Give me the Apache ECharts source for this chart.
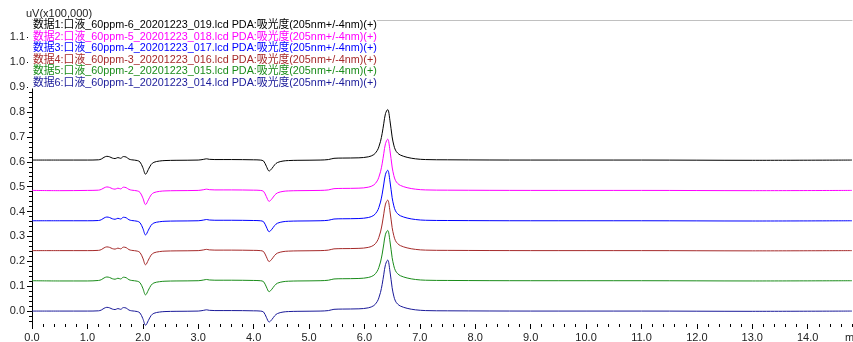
<!DOCTYPE html>
<html>
<head>
<meta charset="utf-8">
<script src="https://cdn.jsdelivr.net/npm/echarts@6/dist/echarts.min.js"></script>
<style>
html,body{margin:0;padding:0;background:#fff;}
#c{width:853px;height:342px;}
</style>
</head>
<body>
<div id="c"></div>
<script>
// ---- data ----
const seriesNames = [
  "数据1:口液_60ppm-6_20201223_019.lcd PDA:吸光度(205nm+/-4nm)(+)",
  "数据2:口液_60ppm-5_20201223_018.lcd PDA:吸光度(205nm+/-4nm)(+)",
  "数据3:口液_60ppm-4_20201223_017.lcd PDA:吸光度(205nm+/-4nm)(+)",
  "数据4:口液_60ppm-3_20201223_016.lcd PDA:吸光度(205nm+/-4nm)(+)",
  "数据5:口液_60ppm-2_20201223_015.lcd PDA:吸光度(205nm+/-4nm)(+)",
  "数据6:口液_60ppm-1_20201223_014.lcd PDA:吸光度(205nm+/-4nm)(+)"
];
const seriesColors = ["#000000", "#ff00ff", "#0000ff", "#a52a2a", "#1a8c1a", "#1a1a99"];

const times = [0.0,0.5,1.0,1.2,1.25,1.3,1.35,1.4,1.45,1.5,
  1.55,1.6,1.65,1.7,1.75,1.8,1.9,1.95,2.0,2.05,
  2.1,2.15,2.2,2.3,2.4,2.6,3.0,3.1,3.15,3.2,
  3.3,3.6,4.0,4.12,4.18,4.23,4.28,4.33,4.38,4.43,
  4.53,4.63,4.8,5.2,5.35,5.45,5.6,5.9,6.07,6.17,
  6.23,6.26,6.29,6.32,6.35,6.38,6.42,6.46,6.5,6.53,
  6.56,6.6,6.65,6.77,6.92,7.1,7.5,9.0,11.0,13.0,14.8];

const data1 = [0.607,0.607,0.607,0.608,0.611,0.618,0.622,0.620,0.615,0.613,
  0.617,0.614,0.621,0.619,0.611,0.608,0.605,0.599,0.577,0.550,
  0.569,0.589,0.598,0.603,0.605,0.606,0.607,0.610,0.612,0.610,
  0.609,0.609,0.608,0.607,0.603,0.582,0.563,0.573,0.588,0.597,
  0.603,0.605,0.606,0.607,0.609,0.614,0.615,0.616,0.620,0.629,
  0.645,0.660,0.682,0.714,0.755,0.794,0.810,0.767,0.700,0.667,
  0.647,0.635,0.627,0.618,0.612,0.609,0.608,0.607,0.607,0.606,0.607];
const data2 = [0.485,0.484,0.485,0.486,0.489,0.495,0.499,0.497,0.492,0.490,
  0.494,0.491,0.498,0.496,0.489,0.486,0.483,0.477,0.455,0.428,
  0.447,0.467,0.476,0.481,0.483,0.484,0.485,0.488,0.490,0.488,
  0.487,0.487,0.486,0.485,0.481,0.460,0.441,0.451,0.466,0.475,
  0.481,0.483,0.484,0.485,0.487,0.492,0.493,0.494,0.498,0.507,
  0.523,0.538,0.560,0.592,0.634,0.673,0.691,0.647,0.579,0.545,
  0.525,0.513,0.505,0.496,0.490,0.487,0.486,0.485,0.485,0.484,0.485];
const data3 = [0.363,0.363,0.363,0.364,0.367,0.374,0.378,0.376,0.371,0.369,
  0.373,0.370,0.377,0.375,0.367,0.364,0.361,0.355,0.333,0.306,
  0.325,0.345,0.354,0.359,0.361,0.362,0.363,0.366,0.368,0.366,
  0.365,0.365,0.364,0.363,0.359,0.338,0.319,0.329,0.344,0.353,
  0.359,0.361,0.362,0.363,0.365,0.370,0.371,0.372,0.376,0.385,
  0.401,0.416,0.438,0.470,0.511,0.550,0.566,0.523,0.456,0.423,
  0.403,0.391,0.383,0.374,0.368,0.365,0.364,0.363,0.363,0.362,0.363];
const data4 = [0.243,0.243,0.243,0.244,0.247,0.254,0.258,0.256,0.251,0.249,
  0.253,0.250,0.257,0.255,0.247,0.244,0.241,0.235,0.213,0.186,
  0.205,0.225,0.234,0.239,0.241,0.242,0.243,0.246,0.248,0.246,
  0.245,0.245,0.244,0.243,0.239,0.218,0.199,0.209,0.224,0.233,
  0.239,0.241,0.242,0.243,0.245,0.250,0.251,0.252,0.256,0.265,
  0.281,0.296,0.318,0.350,0.391,0.430,0.446,0.403,0.336,0.303,
  0.283,0.271,0.263,0.254,0.248,0.245,0.244,0.243,0.243,0.242,0.243];
const data5 = [0.122,0.121,0.121,0.123,0.126,0.133,0.137,0.135,0.130,0.128,
  0.132,0.129,0.136,0.134,0.126,0.123,0.120,0.114,0.092,0.065,
  0.084,0.104,0.113,0.118,0.120,0.121,0.122,0.125,0.127,0.125,
  0.124,0.124,0.123,0.122,0.118,0.097,0.078,0.088,0.103,0.112,
  0.118,0.120,0.121,0.122,0.124,0.129,0.130,0.131,0.135,0.144,
  0.160,0.175,0.197,0.229,0.270,0.309,0.324,0.282,0.215,0.182,
  0.162,0.150,0.142,0.133,0.127,0.124,0.123,0.122,0.122,0.121,0.122];
const data6 = [0.000,0.000,0.000,0.001,0.004,0.011,0.015,0.013,0.008,0.006,
  0.010,0.007,0.014,0.012,0.004,0.001,-0.002,-0.008,-0.030,-0.057,
  -0.038,-0.018,-0.009,-0.004,-0.002,-0.001,0.000,0.003,0.005,0.003,
  0.002,0.002,0.001,0.000,-0.004,-0.025,-0.044,-0.034,-0.019,-0.010,
  -0.004,-0.002,-0.001,0.000,0.002,0.007,0.008,0.009,0.013,0.022,
  0.038,0.053,0.075,0.107,0.148,0.187,0.205,0.161,0.094,0.060,
  0.040,0.028,0.020,0.011,0.005,0.002,0.001,0.000,0.000,-0.001,0.000];

const xMajorTicks = [0,1,2,3,4,5,6,7,8,9,10,11,12,13,14];
const xMinorTicks = [];
for (let i = 1; i <= 74; i++) { if (i % 5 !== 0) xMinorTicks.push(+(i * 0.2).toFixed(1)); }
const yMajorTicks = [0.0,0.1,0.2,0.3,0.4,0.5,0.6,0.7,0.8,0.9,1.0,1.1];
const yMinorTicks = [];
for (let i = -2; i <= 58; i++) { if (i % 5 !== 0) yMinorTicks.push(+(i * 0.02).toFixed(2)); }

const yAxisName = "uV(x100,000)";
const xAxisName = "min";

// ---- chart ----
const allData = [data1, data2, data3, data4, data5, data6];
const chart = echarts.init(document.getElementById('c'), null, {renderer: 'canvas'});
const labelFont = '"Liberation Sans Narrow", "Liberation Sans", sans-serif';
const nameFont = '"Liberation Sans", sans-serif';
const legendFont = '"Liberation Sans", "Noto Sans CJK JP", sans-serif';
const X_MIN = 0, X_MAX = 14.8, Y_MIN = -0.052, Y_MAX = 1.17;

chart.setOption({
  animation: false,
  backgroundColor: '#ffffff',
  grid: {left: 32, right: 1, top: 20, bottom: 18, containLabel: false, outerBoundsMode: 'none'},
  legend: {
    orient: 'vertical', left: 28, top: 19.5, itemGap: 0, itemWidth: 0, itemHeight: 11,
    icon: 'none', padding: 0, backgroundColor: '#ffffff', selectedMode: false,
    textStyle: {fontSize: 10.8, fontFamily: legendFont, lineHeight: 11.5},
    data: seriesNames.map((n, i) => ({name: n, textStyle: {color: seriesColors[i]}}))
  },
  xAxis: [
    {
      type: 'value', min: X_MIN, max: X_MAX, position: 'bottom',
      name: xAxisName, nameLocation: 'end', nameGap: -7,
      nameTextStyle: {fontSize: 11, fontFamily: labelFont, color: '#222', align: 'left', verticalAlign: 'top', padding: [8, 0, 0, 0]},
      axisLine: {show: false, onZero: false},
      axisTick: {show: true, length: 5, customValues: xMajorTicks, lineStyle: {color: '#000', width: 1}},
      axisLabel: {show: true, customValues: xMajorTicks, margin: 8, fontSize: 11, fontFamily: labelFont, color: '#222',
        formatter: v => v.toFixed(1)},
      splitLine: {show: false}
    },
    {
      type: 'value', min: X_MIN, max: X_MAX, position: 'bottom',
      axisLine: {show: false, onZero: false},
      axisTick: {show: true, length: 3, customValues: xMinorTicks, lineStyle: {color: '#000', width: 1}},
      axisLabel: {show: false},
      splitLine: {show: false}
    },
    {
      type: 'value', min: X_MIN, max: X_MAX, position: 'top', show: true,
      axisLine: {show: true, onZero: false, lineStyle: {color: '#c0c0c0', width: 1}},
      axisTick: {show: false}, axisLabel: {show: false}, splitLine: {show: false}
    }
  ],
  yAxis: [
    {
      type: 'value', min: Y_MIN, max: Y_MAX, position: 'left',
      name: yAxisName, nameLocation: 'end', nameGap: 1,
      nameTextStyle: {fontSize: 11, fontFamily: nameFont, color: '#222', align: 'left', verticalAlign: 'bottom', padding: [0, 0, 0, -6]},
      axisLine: {show: true, onZero: false, lineStyle: {color: '#000', width: 1}},
      axisTick: {show: true, length: 5, customValues: yMajorTicks, lineStyle: {color: '#000', width: 1}},
      axisLabel: {show: true, customValues: yMajorTicks, margin: 7, fontSize: 11, fontFamily: labelFont, color: '#222',
        formatter: v => v.toFixed(1)},
      splitLine: {show: false}
    },
    {
      type: 'value', min: Y_MIN, max: Y_MAX, position: 'left',
      axisLine: {show: false, onZero: false},
      axisTick: {show: true, length: 3, customValues: yMinorTicks, lineStyle: {color: '#000', width: 1}},
      axisLabel: {show: false},
      splitLine: {show: false}
    }
  ],
  series: seriesNames.map((n, i) => ({
    name: n, type: 'line', xAxisIndex: 0, yAxisIndex: 0,
    data: times.map((t, k) => [t, allData[i][k]]),
    showSymbol: false, symbol: 'none', smooth: 0.35, clip: false,
    lineStyle: {color: seriesColors[i], width: 1},
    itemStyle: {color: seriesColors[i]},
    emphasis: {disabled: true}
  }))
});
</script>
</body>
</html>
